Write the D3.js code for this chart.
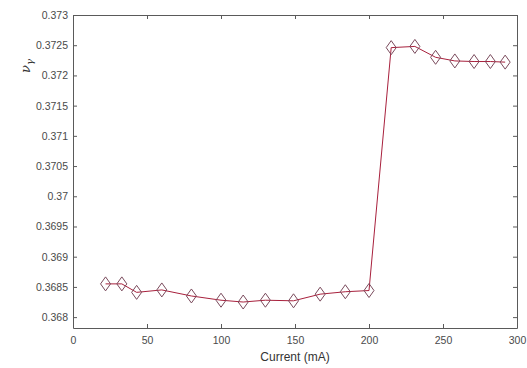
<!DOCTYPE html>
<html>
<head>
<meta charset="utf-8">
<script src="https://cdn.jsdelivr.net/npm/d3@7"></script>
<style>
  body { margin: 0; background: #fff; }
  svg { display: block; font-family: Arial, "Liberation Sans", sans-serif; }
</style>
</head>
<body>
<div id="chart"></div>
<script>
// Measured data (current in mA, nu_gamma)
const current = [22, 33, 43, 60, 80, 100, 115, 130, 149, 167, 184, 200, 215, 231, 245, 258, 271, 282, 292];
const nuGamma = [0.36855, 0.36855, 0.36841, 0.36845, 0.36835, 0.36828, 0.36825, 0.36828, 0.36827, 0.36838, 0.36842, 0.36844,
                 0.37246, 0.37248, 0.37230, 0.37224, 0.37223, 0.37223, 0.37222];
const xTicks = [0, 50, 100, 150, 200, 250, 300];
const yTicks = [0.368, 0.3685, 0.369, 0.3695, 0.37, 0.3705, 0.371, 0.3715, 0.372, 0.3725, 0.373];

const W = 527, H = 368;
const margin = { top: 15, right: 10, bottom: 40, left: 73 };
const iw = W - margin.left - margin.right;
const ih = H - margin.top - margin.bottom;

const svg = d3.select('#chart').append('svg')
    .attr('width', W)
    .attr('height', H);

const x = d3.scaleLinear().domain([0, 300]).range([0, iw]);
const y = d3.scaleLinear().domain([0.36782, 0.373]).range([ih, 0]);

const g = svg.append('g').attr('transform', `translate(${margin.left},${margin.top})`);

const axisColor = '#5a5a5a';
const tickLen = 4;

// Axes (MATLAB-like: ticks inward, box on)
const xAxis = g.append('g')
    .attr('transform', `translate(0,${ih})`)
    .call(d3.axisBottom(x).tickValues(xTicks).tickSizeInner(-tickLen).tickSizeOuter(0).tickPadding(9).tickFormat(d3.format('d')));
const yAxis = g.append('g')
    .call(d3.axisLeft(y).tickValues(yTicks).tickSizeInner(-tickLen).tickSizeOuter(0).tickPadding(5).tickFormat(d => String(+d.toFixed(4))));
const xTop = g.append('g')
    .call(d3.axisTop(x).tickValues(xTicks).tickSizeInner(-tickLen).tickSizeOuter(0).tickFormat(''));
const yRight = g.append('g')
    .attr('transform', `translate(${iw},0)`)
    .call(d3.axisRight(y).tickValues(yTicks).tickSizeInner(-tickLen).tickSizeOuter(0).tickFormat(''));

[xAxis, yAxis, xTop, yRight].forEach(a => {
    a.selectAll('.domain').attr('stroke', axisColor).attr('stroke-width', 1);
    a.selectAll('.tick line').attr('stroke', axisColor);
    a.selectAll('.tick text').attr('fill', '#4a4a4a').attr('font-size', '10.5px');
});

// Line
const line = d3.line()
    .x((d, i) => x(current[i]))
    .y(d => y(d));

g.append('path')
    .datum(nuGamma)
    .attr('fill', 'none')
    .attr('stroke', '#a8203c')
    .attr('stroke-width', 1)
    .attr('d', line);

// Diamond markers
const mw = 5, mh = 7;
g.append('g').selectAll('path.marker')
    .data(nuGamma)
    .enter()
    .append('path')
    .attr('class', 'marker')
    .attr('transform', (d, i) => `translate(${x(current[i])},${y(d)})`)
    .attr('d', `M0,${-mh}L${mw},0L0,${mh}L${-mw},0Z`)
    .attr('fill', 'none')
    .attr('stroke', '#7a4a5c')
    .attr('stroke-width', 1);

// Axis labels
svg.append('text')
    .attr('x', margin.left + x(150))
    .attr('y', 361)
    .attr('text-anchor', 'middle')
    .attr('font-size', '12px')
    .attr('fill', '#333')
    .text('Current (mA)');

const yl = svg.append('text')
    .attr('transform', 'translate(30,66) rotate(-90)')
    .attr('text-anchor', 'middle')
    .attr('font-size', '13px')
    .attr('font-style', 'italic')
    .attr('font-family', '"DejaVu Serif", serif')
    .attr('fill', '#333');
yl.append('tspan').text('ν');
yl.append('tspan').attr('font-size', '10px').attr('dy', '3').text('γ');
</script>
</body>
</html>
